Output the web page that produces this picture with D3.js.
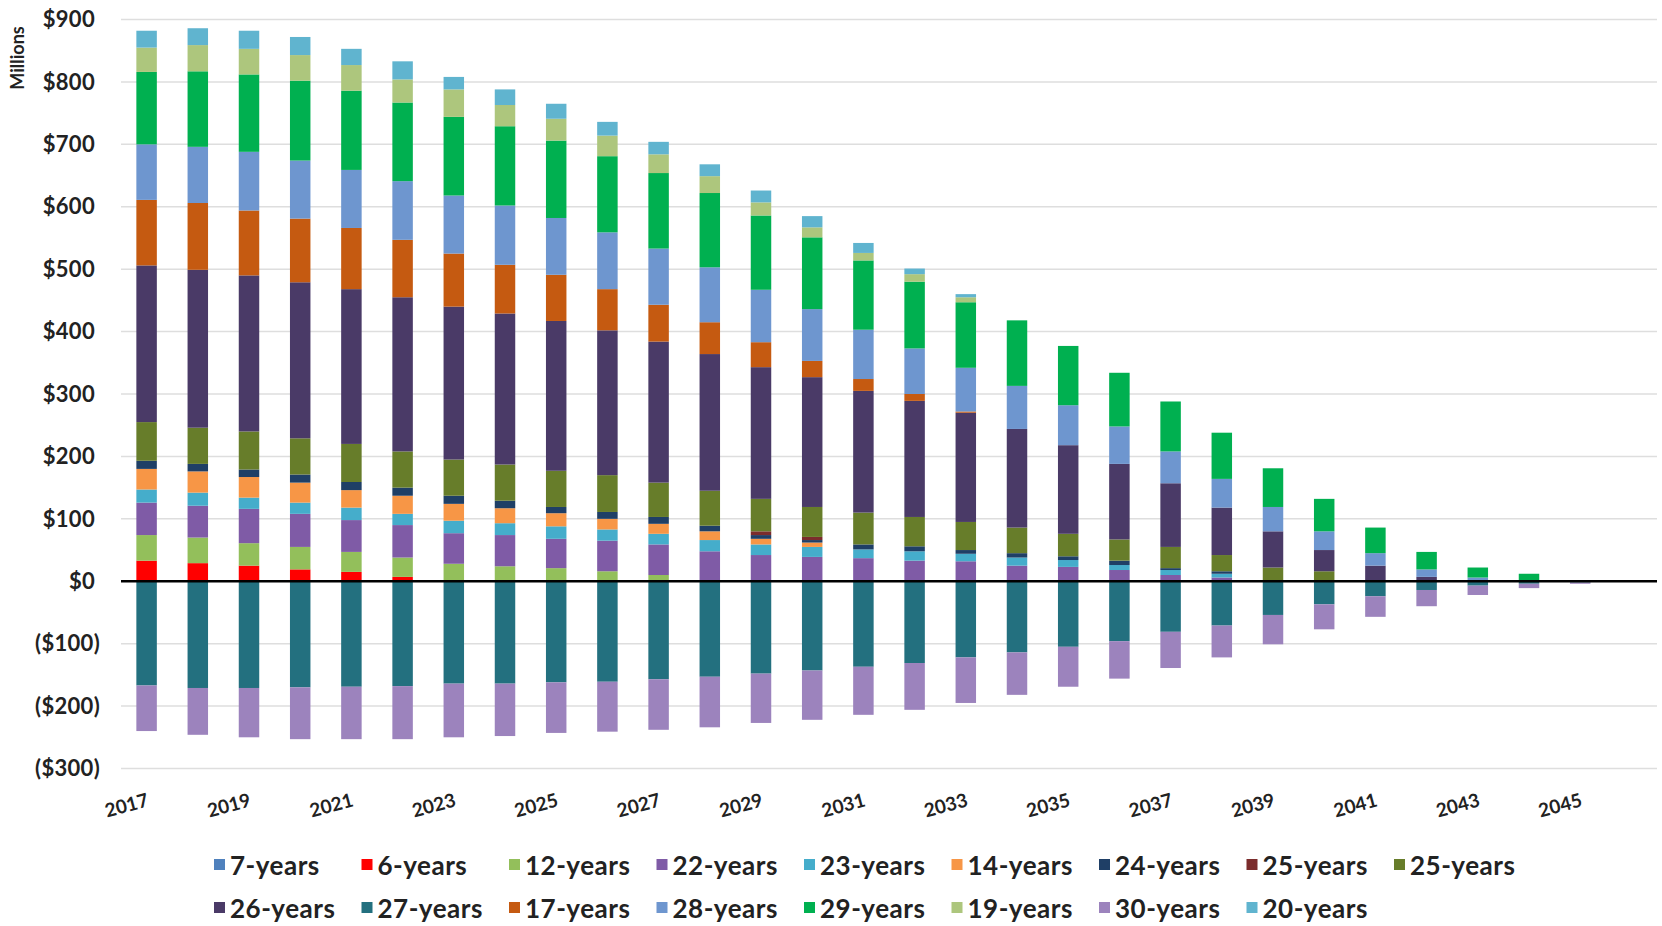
<!DOCTYPE html>
<html>
<head>
<meta charset="utf-8">
<script src="https://cdn.jsdelivr.net/npm/d3@7"></script>
<style>
  html, body { margin: 0; padding: 0; background: #fff; }
  svg { display: block; }
  text { font-family: Lato, "Open Sans", sans-serif; fill: #222; }
</style>
</head>
<body>
<svg id="chart" width="1662" height="926"></svg>
<script>
// Categories (2046 is an empty trailing slot)
const years = [2017,2018,2019,2020,2021,2022,2023,2024,2025,2026,2027,2028,2029,2030,2031,
               2032,2033,2034,2035,2036,2037,2038,2039,2040,2041,2042,2043,2044,2045,2046];

// Series values, $ millions, one value per year
const yrs7  = [0,0,0,0,0,0,0,0,0,0,0,0,0,0,0,0,0,0,0,0,0,0,0,0,0,0,0,0,0,0];
const yrs6  = [33,29,25,19,15,7,0,0,0,0,0,0,0,0,0,0,0,0,0,0,0,0,0,0,0,0,0,0,0,0];
const yrs12 = [41,41,36,36,32,31,28,24,21,16,10,0,0,0,0,0,0,0,0,0,0,0,0,0,0,0,0,0,0,0];
const yrs22 = [52,51,55,53,51,52,49,50,47,49,49,48,42,39,37,33,32,25,23,18,10,6,2,0,0,0,0,0,0,0];
const yrs23 = [21,21,18,18,20,18,20,19,20,18,17,18,17,16,14,15,12,13,11,8,8,6,0,0,0,0,0,0,0,0];
const yrs14 = [33,34,33,32,28,29,27,24,21,17,16,14,9,7,0,0,0,0,0,0,0,0,0,0,0,0,0,0,0,0];
const yrs24 = [13,12,12,13,13,13,13,12,10,11,11,9,6,4,8,8,6,7,6,7,3,4,0,0,0,0,0,0,0,0];
const yrs25a = [0,0,0,0,0,0,0,0,0,0,0,0,6,5,0,0,0,0,0,0,0,0,0,0,2,0,0,0,0,0];
const yrs25b = [62,58,61,58,61,58,58,58,58,59,55,56,52,48,51,47,45,41,36,34,34,26,20,16,0,0,0,0,0,0];
const yrs26 = [251,253,250,250,248,247,245,242,240,232,226,219,211,208,195,186,175,158,142,121,102,76,58,34,23,7,2,0,0,0];
const yrs27 = [-167,-171,-171,-170,-169,-168,-164,-164,-162,-161,-157,-153,-148,-143,-137,-131,-122,-114,-105,-96,-81,-71,-54,-37,-24,-14,-7,-4,-2,0];
const yrs17 = [105,107,104,102,98,92,85,78,74,66,59,51,40,26,19,11,2,0,0,0,0,0,0,0,0,0,0,0,0,0];
const yrs28 = [89,90,94,93,93,94,93,95,91,91,90,88,84,83,79,73,70,69,64,60,51,46,39,30,20,12,4,0,0,0];
const yrs29 = [116,121,124,128,127,126,126,127,124,122,121,119,119,115,111,107,105,105,95,86,80,74,62,52,41,28,16,12,0,0];
const yrs19 = [39,42,41,41,41,37,44,34,35,33,30,27,21,16,12,12,8,0,0,0,0,0,0,0,0,0,0,0,0,0];
const yrs30 = [-73,-75,-79,-83,-84,-85,-86,-84,-81,-80,-81,-81,-79,-79,-77,-75,-73,-68,-64,-60,-58,-51,-47,-40,-33,-26,-15,-7,-2,0];
const yrs20 = [27,27,29,29,26,29,20,25,24,22,20,19,19,18,16,9,5,0,0,0,0,0,0,0,0,0,0,0,0,0];

// Series in legend / stacking order
const seriesNames  = ["7-years","6-years","12-years","22-years","23-years","14-years","24-years","25-years","25-years",
                      "26-years","27-years","17-years","28-years","29-years","19-years","30-years","20-years"];
const seriesValues = [yrs7,yrs6,yrs12,yrs22,yrs23,yrs14,yrs24,yrs25a,yrs25b,
                      yrs26,yrs27,yrs17,yrs28,yrs29,yrs19,yrs30,yrs20];
const seriesColors = ["#4F81BD","#FF0000","#93BF5B","#7F5BA6","#45ADCB","#F79646","#1F3F66","#7B2C2C","#677D2A",
                      "#4A3A67","#23707F","#C55A11","#6E96CF","#00B050","#ADC67D","#9C83BD","#60B4CF"];

// Y tick values and x label years
const yTicks = [900,800,700,600,500,400,300,200,100,0,-100,-200,-300];
const xLabelYears = [2017,2019,2021,2023,2025,2027,2029,2031,2033,2035,2037,2039,2041,2043,2045];

const svg = d3.select("#chart");
const plot = { left: 121, right: 1657, top: 19.5, bottom: 768.5 };

// Build rows keyed by series index for d3.stack
const keys = seriesNames.map((_, i) => "s" + i);
const rows = years.map((yr, j) => {
  const r = { year: yr };
  keys.forEach((k, i) => { r[k] = seriesValues[i][j]; });
  return r;
});

const stacked = d3.stack().keys(keys).offset(d3.stackOffsetDiverging)(rows);

const x = d3.scaleBand()
  .domain(years)
  .range([plot.left, plot.right])
  .paddingInner(0.6)
  .paddingOuter(0.3);

const y = d3.scaleLinear().domain([-300, 900]).range([plot.bottom, plot.top]);

// Gridlines
svg.append("g")
  .selectAll("line")
  .data(yTicks)
  .join("line")
  .attr("x1", plot.left).attr("x2", plot.right)
  .attr("y1", d => y(d)).attr("y2", d => y(d))
  .attr("stroke", "#dedede")
  .attr("stroke-width", 1.5);

// Y axis labels
const fmt = v => v < 0 ? "($" + Math.abs(v) + ")" : "$" + v;
svg.append("g")
  .selectAll("text")
  .data(yTicks)
  .join("text")
  .attr("x", d => d < 0 ? 100 : 95)
  .attr("y", d => y(d))
  .attr("dy", "0.35em")
  .attr("text-anchor", "end")
  .style("font-size", "22px")
  .style("font-weight", "bold")
  .style("letter-spacing", "0.3px")
  .text(fmt);

svg.append("text")
  .attr("transform", "translate(24,58) rotate(-90)")
  .attr("text-anchor", "middle")
  .style("font-size", "18px")
  .style("font-weight", "bold")
  .text("Millions");

// Bars
const layers = svg.append("g")
  .selectAll("g")
  .data(stacked)
  .join("g")
  .attr("fill", (d, i) => seriesColors[i]);

layers.selectAll("rect")
  .data(d => d.filter(p => p[1] - p[0] !== 0))
  .join("rect")
  .attr("x", d => x(d.data.year))
  .attr("width", x.bandwidth())
  .attr("y", d => y(Math.max(d[0], d[1])))
  .attr("height", d => Math.abs(y(d[0]) - y(d[1])));

// Zero line
svg.append("line")
  .attr("x1", plot.left).attr("x2", plot.right)
  .attr("y1", y(0)).attr("y2", y(0))
  .attr("stroke", "#000")
  .attr("stroke-width", 2.5);

// X labels, every other year, tilted
svg.append("g")
  .selectAll("text")
  .data(xLabelYears)
  .join("text")
  .attr("transform", d => `translate(${x(d) + x.bandwidth() / 2 + 3},806) rotate(-15)`)
  .attr("text-anchor", "end")
  .style("font-size", "19px")
  .style("font-weight", "bold")
  .text(d => d);

// Legend: two rows, nine columns
const legendCols = 9;
const legend = svg.append("g")
  .selectAll("g")
  .data(seriesNames.map((n, i) => ({ name: n, color: seriesColors[i], i })))
  .join("g")
  .attr("transform", d => `translate(${214 + (d.i % legendCols) * 147.5},${d.i < legendCols ? 865 : 908})`);

legend.append("rect")
  .attr("x", 0).attr("y", -6)
  .attr("width", 11).attr("height", 11)
  .attr("fill", d => d.color);

legend.append("text")
  .attr("x", 16)
  .attr("y", 1)
  .attr("dy", "0.35em")
  .style("font-size", "26px")
  .style("font-weight", "bold")
  .style("letter-spacing", "0.5px")
  .text(d => d.name);
</script>
</body>
</html>
